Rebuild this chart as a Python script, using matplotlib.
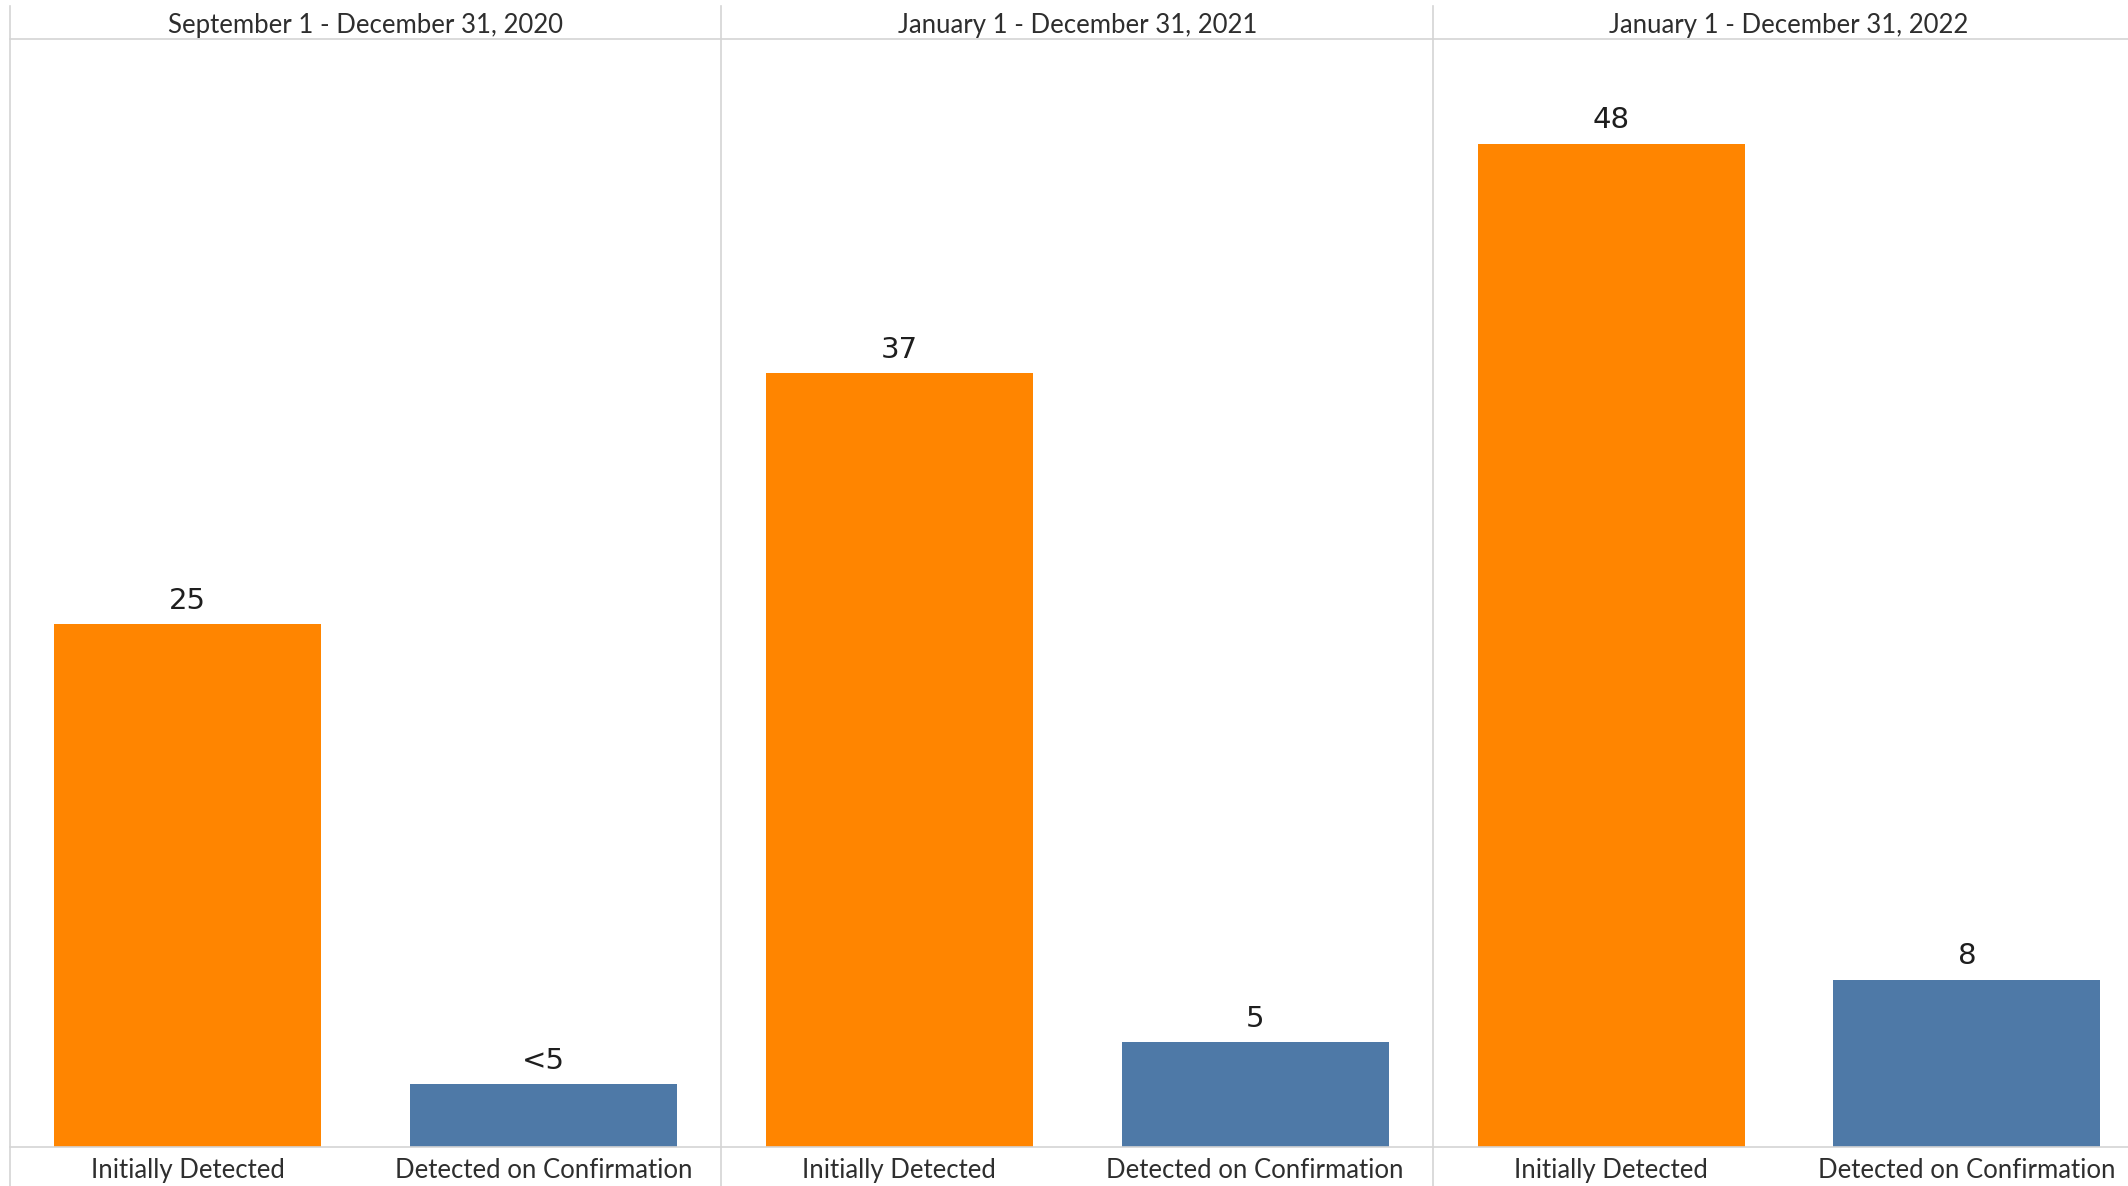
import matplotlib
matplotlib.use("Agg")
import matplotlib.pyplot as plt
from matplotlib.lines import Line2D
from matplotlib import font_manager

periods = ["September 1 - December 31, 2020",
           "January 1 - December 31, 2021",
           "January 1 - December 31, 2022"]
categories = ["Initially Detected", "Detected on Confirmation"]
initially_detected = [25, 37, 48]
detected_on_confirmation = [3, 5, 8]   # first value suppressed (<5)
value_labels = [["25", "<5"], ["37", "5"], ["48", "8"]]

colors = ["#FF8500", "#4E79A7"]
grid_col = "#D4D4D4"
text_col = "#2E2E2E"

names = {f.name for f in font_manager.fontManager.ttflist}
narrow = "Liberation Sans Narrow" if "Liberation Sans Narrow" in names else "Lato"

W, H = 2128, 1186
fig = plt.figure(figsize=(W / 100, H / 100), dpi=100)
fig.patch.set_facecolor("white")

left_px = 9.5
panel_w = 711.8
top_px = 39
base_px = 1147
ax_bottom = 1 - base_px / H
ax_height = (base_px - top_px) / H

for i, period in enumerate(periods):
    x0 = (left_px + i * panel_w) / W
    ax = fig.add_axes([x0, ax_bottom, panel_w / W, ax_height])
    vals = [initially_detected[i], detected_on_confirmation[i]]
    bars = ax.bar([0, 1], vals, width=0.75, color=colors)
    ax.set_xlim(-0.5, 1.5)
    ax.set_ylim(0, 53)
    for b, lab in zip(bars, value_labels[i]):
        ax.annotate(lab, (b.get_x() + b.get_width() / 2, b.get_height()),
                    xytext=(0, 7), textcoords="offset points",
                    ha="center", va="bottom", fontsize=21,
                    family="DejaVu Sans", color="#1E1E1E")
    ax.set_xticks([0, 1])
    ax.set_xticklabels(categories, fontsize=18.5, family=narrow, color=text_col)
    ax.tick_params(axis="x", length=0, pad=8)
    ax.set_yticks([])
    for s in ["top", "right", "bottom", "left"]:
        ax.spines[s].set_visible(False)
    ax.set_title(period, fontsize=18.5, family=narrow, color=text_col, pad=4)
    # vertical divider line at panel left edge (full height)
    fig.add_artist(Line2D([x0, x0], [0, 1 - 6 / H], transform=fig.transFigure,
                          color=grid_col, lw=1.2))

# header and baseline rules
fig.add_artist(Line2D([left_px / W, 1], [1 - top_px / H] * 2,
                      transform=fig.transFigure, color=grid_col, lw=1.2))
fig.add_artist(Line2D([left_px / W, 1], [1 - base_px / H] * 2,
                      transform=fig.transFigure, color=grid_col, lw=1.2))

fig.savefig("out.png", dpi=100, facecolor="white")
